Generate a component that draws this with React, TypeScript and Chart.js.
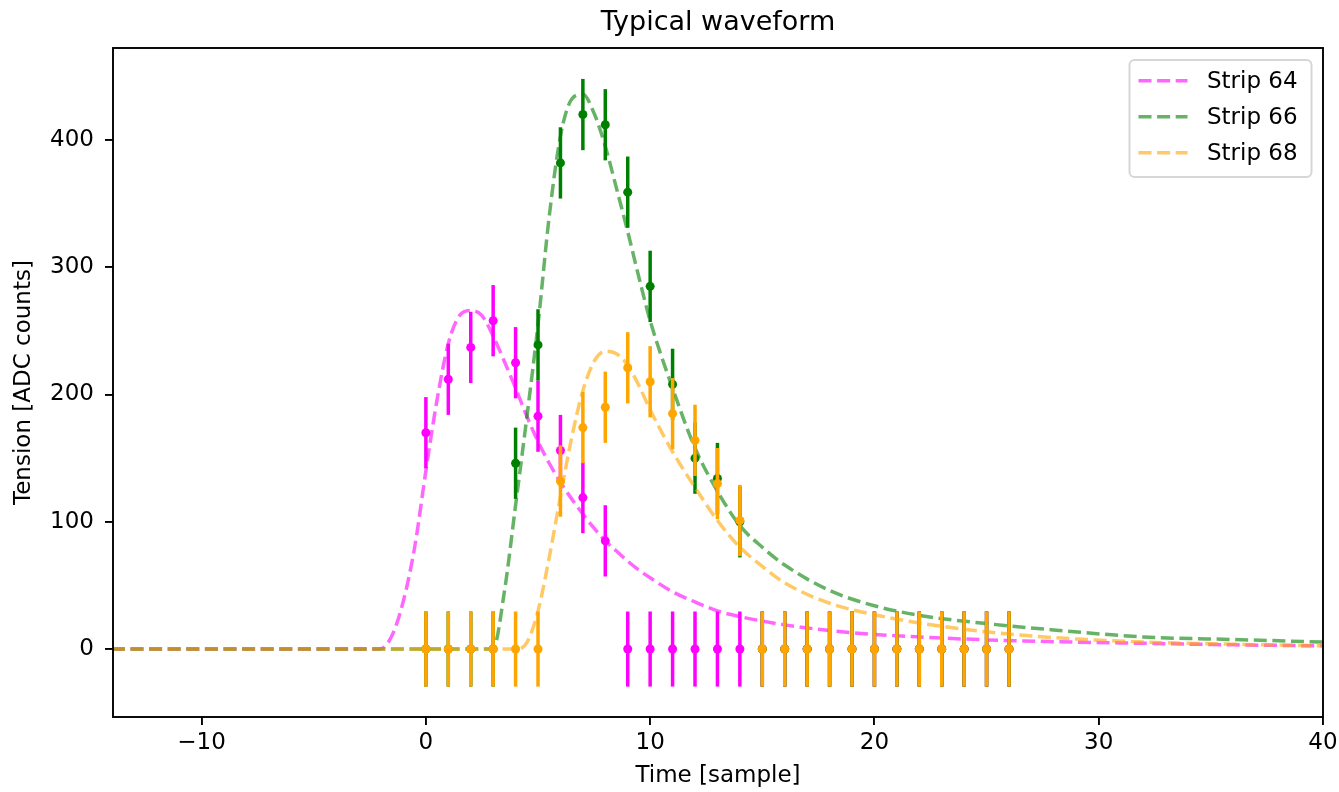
import React, { useEffect, useRef } from "react";
import { Chart, registerables } from "chart.js";

Chart.register(...registerables);

const FONT = "'DejaVu Sans', 'Liberation Sans', sans-serif";

const chartTitle = "Typical waveform";
const xAxisTitle = "Time [sample]";
const yAxisTitle = "Tension [ADC counts]";
const seriesLabels = ["Strip 64", "Strip 66", "Strip 68"];
const seriesColors = ["#ff00ff", "#008000", "#ffa500"];
const fitColors = ["rgba(255,0,255,0.6)", "rgba(0,128,0,0.6)", "rgba(255,165,0,0.6)"];

const xTicks = [-10, 0, 10, 20, 30, 40];
const yTicks = [0, 100, 200, 300, 400];
const xRange = [-13.95, 40];
const yRange = [-53.4, 472.3];

// measured samples (time in samples)
const sampleTimes = [0, 1, 2, 3, 4, 5, 6, 7, 8, 9, 10, 11, 12, 13, 14, 15, 16, 17, 18, 19, 20, 21, 22, 23, 24, 25, 26];
const strip64Values = [170, 212, 237, 258, 225, 183, 156, 119, 85, 0, 0, 0, 0, 0, 0, 0, 0, 0, 0, 0, 0, 0, 0, 0, 0, 0, 0];
const strip66Values = [0, 0, 0, 0, 146, 239, 382, 420, 412, 359, 285, 208, 150, 134, 100, 0, 0, 0, 0, 0, 0, 0, 0, 0, 0, 0, 0];
const strip68Values = [0, 0, 0, 0, 0, 0, 132, 174, 190, 221, 210, 185, 164, 130, 101, 0, 0, 0, 0, 0, 0, 0, 0, 0, 0, 0, 0];
const strip64Errors = [28, 28, 28, 28, 28, 28, 28, 28, 28, 29.5, 29.5, 29.5, 29.5, 29.5, 29.5, 29.5, 29.5, 29.5, 29.5, 29.5, 29.5, 29.5, 29.5, 29.5, 29.5, 29.5, 29.5];
const strip66Errors = [29.5, 29.5, 29.5, 29.5, 28, 28, 28, 28, 28, 28, 28, 28, 28, 28, 28, 29.5, 29.5, 29.5, 29.5, 29.5, 29.5, 29.5, 29.5, 29.5, 29.5, 29.5, 29.5];
const strip68Errors = [29.5, 29.5, 29.5, 29.5, 29.5, 29.5, 28, 28, 28, 28, 28, 28, 28, 28, 28, 29.5, 29.5, 29.5, 29.5, 29.5, 29.5, 29.5, 29.5, 29.5, 29.5, 29.5, 29.5];

// fitted curves
const fitTimes = [-14, -3, -2.5, -2, -1.5, -1, -0.5, 0, 0.5, 1, 1.5, 2, 2.5, 3, 3.5, 4, 4.5, 5, 5.5, 6, 6.5, 7, 7.5, 8, 8.5, 9, 9.5, 10, 11, 12, 13, 14, 15, 16, 18, 20, 22, 25, 28, 32, 36, 40];
const strip64Fit = [0, 0, 0, 0.3, 11, 38, 80, 140, 196, 240, 262, 266, 262, 246, 226, 205, 183, 163, 146, 131, 118, 106, 95, 85, 77, 69, 62, 56, 45, 37, 30, 25.5, 22, 19, 14.5, 11.5, 9.5, 7.2, 5.8, 4.5, 3.3, 2.5];
const strip66Fit = [0, 0, 0, 0, 0, 0, 0, 0, 0, 0, 0, 0, 0, 0.5, 45, 113, 182, 255, 340, 403, 432, 436, 421, 395, 362, 328, 292, 258, 205, 158, 124, 97, 80, 66, 46, 34, 26.5, 20, 15, 9.5, 7.5, 5.5];
const strip68Fit = [0, 0, 0, 0, 0, 0, 0, 0, 0, 0, 0, 0, 0, 0, 0, 0, 5, 30, 72, 120, 166, 203, 226, 234, 232, 223, 207, 188, 155, 127, 101, 80, 65, 52, 36, 27, 20.5, 13.5, 9, 5.5, 3.8, 2.5];

const allValues = [strip64Values, strip66Values, strip68Values];
const allErrors = [strip64Errors, strip66Errors, strip68Errors];
const allFits = [strip64Fit, strip66Fit, strip68Fit];

const fmtTick = (v: any) => String(v).replace("-", "\u2212");

const framePlugin = {
  id: "frame",
  afterDatasetsDraw(chart: any) {
    const { ctx, chartArea: a } = chart;
    ctx.save();
    ctx.strokeStyle = "#000";
    ctx.lineWidth = 1.9;
    ctx.strokeRect(a.left, a.top, a.right - a.left, a.bottom - a.top);
    ctx.restore();
  },
};

const legendPlugin = {
  id: "insetLegend",
  afterDraw(chart: any) {
    const { ctx, chartArea: a } = chart;
    const items = chart.data.datasets.filter((d: any) => d.inLegend);
    const w = 182;
    const h = 117;
    const x0 = a.right - 11.5 - w;
    const y0 = a.top + 12;
    ctx.save();
    ctx.beginPath();
    ctx.roundRect(x0, y0, w, h, 5);
    ctx.fillStyle = "rgba(255,255,255,0.8)";
    ctx.fill();
    ctx.strokeStyle = "rgba(204,204,204,0.8)";
    ctx.lineWidth = 2;
    ctx.stroke();
    items.forEach((d: any, i: number) => {
      const y = y0 + 20.7 + i * 36;
      ctx.beginPath();
      ctx.setLineDash(d.borderDash);
      ctx.strokeStyle = d.borderColor;
      ctx.lineWidth = d.borderWidth;
      ctx.moveTo(x0 + 9, y);
      ctx.lineTo(x0 + 58, y);
      ctx.stroke();
      ctx.setLineDash([]);
      ctx.fillStyle = "#000";
      ctx.font = `23px ${FONT}`;
      ctx.textBaseline = "middle";
      ctx.textAlign = "left";
      ctx.fillText(d.label, x0 + 77.5, y + 1);
    });
    ctx.restore();
  },
};

function buildDatasets() {
  const datasets: any[] = [];
  let order = 100;
  for (let s = 0; s < seriesLabels.length; s++) {
    const vals = allValues[s];
    const errs = allErrors[s];
    datasets.push({
      type: "bar",
      label: seriesLabels[s] + " error",
      data: sampleTimes.map((t, i) => ({ x: t, y: [vals[i] - errs[i], vals[i] + errs[i]] })),
      backgroundColor: seriesColors[s],
      borderWidth: 0,
      barThickness: 3.5,
      grouped: false,
      inflateAmount: 0,
      order: order--,
    });
    datasets.push({
      type: "line",
      label: seriesLabels[s] + " data",
      data: sampleTimes.map((t, i) => ({ x: t, y: vals[i] })),
      showLine: false,
      pointRadius: 4.5,
      pointHoverRadius: 4.5,
      pointBackgroundColor: seriesColors[s],
      pointBorderWidth: 0,
      borderColor: seriesColors[s],
      order: order--,
    });
    datasets.push({
      type: "line",
      label: seriesLabels[s],
      inLegend: true,
      data: fitTimes.map((t, i) => ({ x: t, y: allFits[s][i] })),
      borderColor: fitColors[s],
      borderWidth: 3.5,
      borderDash: [13, 5.6],
      pointRadius: 0,
      pointHoverRadius: 0,
      cubicInterpolationMode: "monotone",
      fill: false,
      order: order--,
    });
  }
  return datasets;
}

const tickFont = { family: FONT, size: 23 };

export default function App() {
  const ref = useRef<HTMLCanvasElement>(null);

  useEffect(() => {
    const chart = new Chart(ref.current as HTMLCanvasElement, {
      type: "line",
      data: { datasets: buildDatasets() },
      options: {
        animation: false,
        responsive: false,
        devicePixelRatio: 1,
        events: [],
        layout: { padding: { top: 0, right: 16, bottom: 0, left: 0 } },
        plugins: {
          legend: { display: false },
          tooltip: { enabled: false },
          title: {
            display: true,
            text: chartTitle,
            fullSize: false,
            color: "#000",
            font: { family: FONT, size: 27, weight: "normal" },
            padding: { top: 6.8, bottom: 8.8 },
          },
        },
        scales: {
          x: {
            type: "linear",
            min: xRange[0],
            max: xRange[1],
            offset: false,
            afterBuildTicks: (axis: any) => {
              axis.ticks = xTicks.map((v) => ({ value: v }));
            },
            afterFit: (axis: any) => {
              axis.height = 75;
              axis.paddingLeft = 0;
              axis.paddingRight = 0;
            },
            ticks: { font: tickFont, color: "#000", padding: 4, callback: fmtTick },
            grid: {
              display: true,
              offset: false,
              drawOnChartArea: false,
              drawTicks: true,
              tickLength: 8,
              tickColor: "#000",
              tickWidth: 1.9,
              color: "#000",
              lineWidth: 1.9,
            },
            border: { display: false },
            title: {
              display: true,
              text: xAxisTitle,
              color: "#000",
              font: tickFont,
              padding: { top: 0, bottom: 2.2 },
            },
          },
          y: {
            type: "linear",
            min: yRange[0],
            max: yRange[1],
            offset: false,
            afterBuildTicks: (axis: any) => {
              axis.ticks = yTicks.map((v) => ({ value: v }));
            },
            afterFit: (axis: any) => {
              axis.width = 113;
              axis.paddingTop = 0;
              axis.paddingBottom = 0;
            },
            ticks: { font: tickFont, color: "#000", padding: 11, callback: fmtTick },
            grid: {
              display: true,
              offset: false,
              drawOnChartArea: false,
              drawTicks: true,
              tickLength: 8,
              tickColor: "#000",
              tickWidth: 1.9,
              color: "#000",
              lineWidth: 1.9,
            },
            border: { display: false },
            title: {
              display: true,
              text: yAxisTitle,
              color: "#000",
              font: tickFont,
              padding: { top: 10, bottom: 0 },
            },
          },
        },
      } as any,
      plugins: [framePlugin, legendPlugin],
    } as any);
    return () => chart.destroy();
  }, []);

  return (
    <div style={{ position: "absolute", left: 0, top: 0, width: 1339, height: 792, background: "#fff" }}>
      <canvas ref={ref} width={1339} height={792} style={{ display: "block", width: 1339, height: 792 }} />
    </div>
  );
}
